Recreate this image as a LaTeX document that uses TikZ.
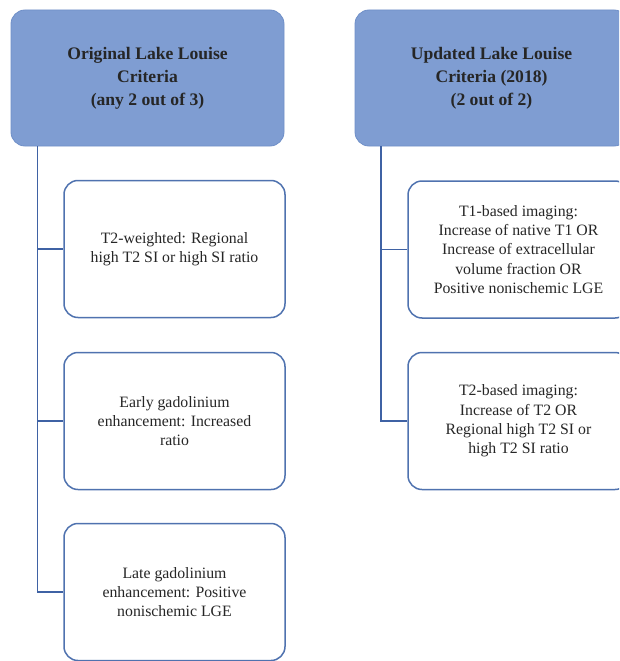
\documentclass[tikz,border=0pt]{standalone}
\usepackage{fontspec}
\setmainfont{Liberation Serif}
\definecolor{hdrfill}{HTML}{7F9DD2}
\definecolor{hdredge}{HTML}{6F8FC8}
\definecolor{boxedge}{HTML}{4F72AF}
\definecolor{linecol}{HTML}{3F62A4}
\definecolor{txt}{HTML}{262626}
\tikzset{
  hdr/.style={draw=hdredge, line width=0.8pt, fill=hdrfill, rounded corners=14pt,
    minimum width=273pt, minimum height=136pt, align=center, inner sep=0pt,
    font=\fontsize{17.6}{23}\selectfont\bfseries, text=txt},
  child/.style={draw=boxedge, line width=1.5pt, fill=white, rounded corners=14pt,
    minimum width=221pt, minimum height=137pt, align=center, inner sep=0pt,
    font=\fontsize{15.8}{19.3}\selectfont, text=txt},
  conn/.style={draw=linecol, line width=1.6pt}
}
\begin{document}
\begin{tikzpicture}[x=1pt,y=-1pt]
\useasboundingbox (0,0) rectangle (619,661);
\clip (0,0) rectangle (619,661);
% headers
\node[hdr] (h1) at (147.5,78) {Original Lake Louise\\Criteria\\(any 2 out of 3)\hspace*{-0pt}};
\node[hdr] (h2) at (491.5,78) {Updated Lake Louise\\Criteria (2018)\\(2 out of 2)};
% left children
\node[child] (a1) at (174.5,249) {T2-weighted: Regional\\high T2 SI or high SI ratio};
\node[child] (a2) at (174.5,421) {Early gadolinium\\enhancement: Increased\\ratio};
\node[child] (a3) at (174.5,592) {Late gadolinium\\enhancement: Positive\\nonischemic LGE};
% right children
\node[child] (b1) at (518.5,249.5) {T1-based imaging:\\Increase of native T1 OR\\Increase of extracellular\\volume fraction OR\\Positive nonischemic LGE};
\node[child] (b2) at (518.5,421) {T2-based imaging:\\Increase of T2 OR\\Regional high T2 SI or\\high T2 SI ratio};
% trunks
\coordinate (L0) at (37.5,146);
\coordinate (R0) at (381,146);
\draw[conn] (L0) |- (a3.west);
\draw[conn] (L0 |- a1.west) -- (a1.west);
\draw[conn] (L0 |- a2.west) -- (a2.west);
\draw[conn] (R0) |- (b2.west);
\draw[conn] (R0 |- b1.west) -- (b1.west);
\end{tikzpicture}
\end{document}
